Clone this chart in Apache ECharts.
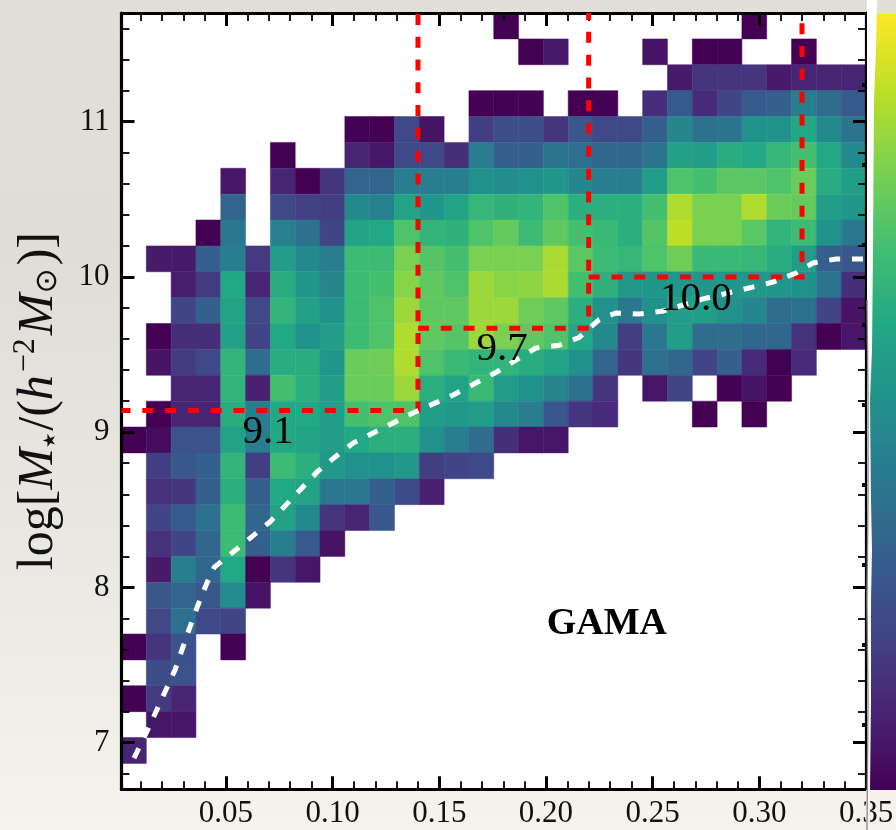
<!DOCTYPE html>
<html>
<head>
<meta charset="utf-8">
<style>html,body{margin:0;padding:0;background:#eae7e1}#chart{width:896px;height:830px}</style>
<script src="https://cdn.jsdelivr.net/npm/echarts@6/dist/echarts.min.js"></script>
</head>
<body>
<div id="chart"></div>
<script>
const _ = null;
// colour position (0..1) of each 2D-histogram cell, top row first, 30 x 30
const cellRows = [
[_,_,_,_,_,_,_,_,_,_,_,_,_,_,_,0,_,_,_,_,_,_,_,_,_,0,_,_,_,_],
[_,_,_,_,_,_,_,_,_,_,_,_,_,_,_,_,0,.07,_,_,_,.05,_,0,0,_,_,0,_,_],
[_,_,_,_,_,_,_,_,_,_,_,_,_,_,_,_,_,_,_,_,_,_,.07,.15,.15,.15,.07,.1,.1,.1],
[_,_,_,_,_,_,_,_,_,_,_,_,_,_,0,0,0,_,0,0,_,.13,.28,.12,.2,.28,.3,.42,.35,.28],
[_,_,_,_,_,_,_,_,_,0,0,.22,.05,_,.18,.24,.24,.15,.27,.22,.22,.3,.45,.37,.38,.5,.5,.6,.47,.38],
[_,_,_,_,_,_,0,_,_,.1,.06,.22,.22,.13,.42,.3,.3,.38,.36,.33,.33,.38,.57,.55,.62,.6,.66,.7,.6,.47],
[_,_,_,_,.06,_,.1,0,.15,.32,.32,.42,.42,.42,.5,.48,.5,.52,.46,.42,.42,.55,.72,.7,.74,.74,.72,.77,.62,.55],
[_,_,_,_,.32,_,.22,.19,.18,.47,.43,.58,.52,.58,.66,.64,.65,.72,.63,.63,.63,.7,.88,.8,.8,.88,.77,.76,.55,.52],
[_,_,_,0,.4,_,.43,.37,.2,.58,.6,.72,.65,.64,.72,.76,.68,.75,.7,.67,.63,.73,.9,.8,.8,.74,.65,.68,.5,.4],
[_,.07,.07,.3,.42,.17,.55,.47,.42,.68,.68,.8,.73,.7,.8,.8,.8,.87,.74,.68,.66,.72,.78,.67,.67,.66,.62,.55,.3,.27],
[_,_,.08,.17,.6,.1,.62,.52,.45,.68,.7,.82,.75,.72,.85,.82,.83,.87,.7,.64,.53,.52,.52,.52,.52,.52,.52,.5,.38,.13],
[_,_,.2,.3,.58,.22,.65,.57,.5,.68,.72,.85,.75,.75,.85,.85,.78,.75,.63,.5,.4,.5,.55,.55,.5,.45,.35,.37,.2,.05],
[_,0,.13,.13,.57,.2,.6,.5,.55,.68,.72,.88,.75,.73,.85,.8,.75,.72,.6,.47,.18,.4,.55,.35,.35,.33,.33,.14,0,.06],
[_,.05,.17,.22,.65,.35,.62,.62,.52,.77,.78,.88,.72,.67,.65,.65,.62,.58,.5,.32,.16,.37,.33,.2,.3,.12,0,.12,_,_],
[_,_,.1,.1,.65,.09,.7,.63,.55,.77,.77,.85,.63,.58,.67,.55,.5,.45,.37,.15,_,.06,.2,_,0,.05,0,_,_,_],
[_,0,.1,.1,.62,.42,.6,.6,.55,.7,.72,.72,.55,.53,.55,.47,.42,.27,.15,.12,_,_,_,0,_,0,_,_,_,_],
[0,.03,.25,.25,.58,.42,.6,.58,.55,.6,.63,.63,.5,.42,.35,.13,.06,.06,_,_,_,_,_,_,_,_,_,_,_,_],
[_,.18,.27,.3,.65,.18,.68,.63,.53,.5,.5,.53,.18,.2,.22,_,_,_,_,_,_,_,_,_,_,_,_,_,_,_],
[_,.14,.16,.3,.63,.3,.6,.58,.4,.4,.3,.23,.09,_,_,_,_,_,_,_,_,_,_,_,_,_,_,_,_,_],
[_,.2,.28,.37,.68,.33,.57,.47,.15,.1,.27,_,_,_,_,_,_,_,_,_,_,_,_,_,_,_,_,_,_,_],
[_,.14,.2,.33,.68,.3,.42,.28,.05,_,_,_,_,_,_,_,_,_,_,_,_,_,_,_,_,_,_,_,_,_],
[_,.07,.42,.33,.6,0,.15,.06,_,_,_,_,_,_,_,_,_,_,_,_,_,_,_,_,_,_,_,_,_,_],
[_,.27,.32,.27,.48,.05,_,_,_,_,_,_,_,_,_,_,_,_,_,_,_,_,_,_,_,_,_,_,_,_],
[_,.22,.37,.22,.2,_,_,_,_,_,_,_,_,_,_,_,_,_,_,_,_,_,_,_,_,_,_,_,_,_],
[0,.15,.25,_,0,_,_,_,_,_,_,_,_,_,_,_,_,_,_,_,_,_,_,_,_,_,_,_,_,_],
[_,.23,.25,_,_,_,_,_,_,_,_,_,_,_,_,_,_,_,_,_,_,_,_,_,_,_,_,_,_,_],
[0,.17,.1,_,_,_,_,_,_,_,_,_,_,_,_,_,_,_,_,_,_,_,_,_,_,_,_,_,_,_],
[_,.06,.06,_,_,_,_,_,_,_,_,_,_,_,_,_,_,_,_,_,_,_,_,_,_,_,_,_,_,_],
[.1,_,_,_,_,_,_,_,_,_,_,_,_,_,_,_,_,_,_,_,_,_,_,_,_,_,_,_,_,_],
[_,_,_,_,_,_,_,_,_,_,_,_,_,_,_,_,_,_,_,_,_,_,_,_,_,_,_,_,_,_]
];
const xRange = [0.00103, 0.35];
const yRange = [6.7, 11.7];
const viridis = ['#440154','#482475','#414487','#355f8d','#2a788e','#21918c','#22a884','#44bf70','#7ad151','#bddf26','#fde725'];

const xMajorTicks = [0.05,0.10,0.15,0.20,0.25,0.30,0.35];
const xMinorTicks = [0.01,0.02,0.03,0.04,0.06,0.07,0.08,0.09,0.11,0.12,0.13,0.14,0.16,0.17,0.18,0.19,0.21,0.22,0.23,0.24,0.26,0.27,0.28,0.29,0.31,0.32,0.33,0.34];
const yMajorTicks = [7,8,9,10,11];
const yMinorTicks = [6.8,7.2,7.4,7.6,7.8,8.2,8.4,8.6,8.8,9.2,9.4,9.6,9.8,10.2,10.4,10.6,10.8,11.2,11.4,11.6];
const colorbarTicks = [0.084,0.187,0.290,0.393,0.496,0.600,0.703,0.806,0.909];

// white dashed curve
const curve = [[0.0069,6.90],[0.0144,7.114],[0.0214,7.327],[0.0261,7.468],[0.0331,7.745],[0.0369,7.887],[0.0411,8.03],[0.0445,8.13],[0.0557,8.254],[0.0706,8.422],[0.0927,8.744],[0.1011,8.84],[0.1096,8.93],[0.1386,9.13],[0.1565,9.24],[0.177,9.388],[0.186,9.465],[0.1953,9.542],[0.2061,9.56],[0.2155,9.61],[0.2249,9.725],[0.2328,9.768],[0.2436,9.761],[0.2549,9.78],[0.2736,9.858],[0.2952,9.929],[0.3064,9.967],[0.3172,10.025],[0.3252,10.09],[0.336,10.116],[0.35,10.116]];
// red dashed thresholds
const cutLow = [[0.00103,9.14],[0.14,9.14],[0.14,11.7]];
const cutMid = [[0.14,9.67],[0.22,9.67],[0.22,11.7]];
const cutHigh = [[0.22,10.0],[0.32,10.0],[0.32,11.7]];

const cutLabels = [['9.1',0.0697,9.0],['9.7',0.1794,9.536],['10.0',0.2703,9.858]];
const sampleLabel = [['GAMA',0.2285,7.765]];

const FONT = '"Liberation Serif","Times New Roman",serif';
const nx = 30, ny = 30;
const dx = (xRange[1]-xRange[0])/nx, dy = (yRange[1]-yRange[0])/ny;
const cells = [];
cellRows.forEach((row, i) => row.forEach((v, j) => {
  if (v === null) return;
  const r = ny-1-i;
  cells.push([xRange[0]+j*dx, xRange[0]+(j+1)*dx, yRange[0]+r*dy, yRange[0]+(r+1)*dy, v]);
}));

const blackLine = {show:true,onZero:false,lineStyle:{color:'#000',width:3.2}};
function xAxisOf(pos, major, labels){
  return {type:'value',gridIndex:0,position:pos,min:xRange[0],max:xRange[1],z:5,
    axisLine:major?blackLine:{show:false},
    splitLine:{show:false},
    axisTick:{show:true,inside:true,length:major?13:8,lineStyle:{color:'#000',width:major?3:1.8},customValues:major?xMajorTicks:xMinorTicks},
    axisLabel:labels?{show:true,margin:9,color:'#111',fontFamily:FONT,fontSize:31,customValues:xMajorTicks,formatter:v=>v.toFixed(2),showMinLabel:true,showMaxLabel:true,hideOverlap:false}:{show:false}};
}
function yAxisOf(pos, major, labels, name){
  const a = {type:'value',gridIndex:0,position:pos,min:yRange[0],max:yRange[1],z:5,
    axisLine:major?blackLine:{show:false},
    splitLine:{show:false},
    axisTick:{show:true,inside:true,length:major?13:8,lineStyle:{color:'#000',width:major?3:1.8},customValues:major?yMajorTicks:yMinorTicks},
    axisLabel:labels?{show:true,margin:12,color:'#111',fontFamily:FONT,fontSize:31,customValues:yMajorTicks,formatter:v=>String(v)}:{show:false}};
  if(name){
    a.name = '{t|log[}{i|M}{s|\u2605}{t|/(}{i|h}{p|\u22122}{i|M}{o|\u2299}{t|)]}';
    a.nameLocation='middle'; a.nameRotate=90; a.nameGap=46;
    a.nameTextStyle={color:'#111',rich:{
      t:{fontFamily:FONT,fontSize:50,lineHeight:70,color:'#111'},
      i:{fontFamily:FONT,fontStyle:'italic',fontSize:50,lineHeight:70,color:'#111'},
      s:{fontFamily:'"DejaVu Sans"',fontSize:17,lineHeight:70,padding:[24,2,0,0],color:'#111'},
      p:{fontFamily:FONT,fontSize:32,lineHeight:70,padding:[0,3,26,3],color:'#111'},
      o:{fontFamily:'"DejaVu Sans"',fontSize:30,lineHeight:70,padding:[20,3,0,0],color:'#111'}
    }};
  }
  return a;
}
const dashed = (data, color, z, offset) => ({type:'line',data,showSymbol:false,symbol:'none',z,silent:true,clip:true,
  lineStyle:{color,width:5,type:[11,11.8],dashOffset:offset,cap:'butt',join:'miter'},animation:false});
const labelled = (data, font) => ({type:'scatter',data:data.map(d=>({name:d[0],value:[d[1],d[2]]})),symbolSize:1,z:12,silent:true,
  itemStyle:{color:'transparent',opacity:1},
  label:{show:true,position:'inside',formatter:'{b}',color:'#000',fontFamily:FONT,...font}});

const chart = echarts.init(document.getElementById('chart'),null,{renderer:'canvas',width:896,height:830});
chart.setOption({
  animation:false,
  backgroundColor:new echarts.graphic.LinearGradient(0,0,0,1,[
    {offset:0,color:'#e2dfd9'},{offset:.3,color:'#e0ddd7'},{offset:.7,color:'#ebe9e3'},{offset:1,color:'#f5f3ec'}]),
  grid:[
    {left:121.5,top:13,width:744.5,height:776.25,show:true,backgroundColor:'#fff',borderWidth:0,containLabel:false,outerBoundsMode:'none'},
    {left:866,top:14,width:30,height:776,show:false,containLabel:false,outerBoundsMode:'none'}
  ],
  xAxis:[
    xAxisOf('bottom',true,true), xAxisOf('bottom',false,false),
    xAxisOf('top',true,false), xAxisOf('top',false,false),
    {type:'value',gridIndex:1,show:false,min:0,max:1}
  ],
  yAxis:[
    yAxisOf('left',true,true,true), yAxisOf('left',false,false),
    yAxisOf('right',true,false), yAxisOf('right',false,false),
    {type:'value',gridIndex:1,position:'right',min:0,max:1,z:40,
     axisLine:{show:false},splitLine:{show:false},axisLabel:{show:false},
     axisTick:{show:true,inside:true,length:4,lineStyle:{color:'#000',width:4},customValues:colorbarTicks}}
  ],
  visualMap:{
    type:'continuous',min:0,max:1,seriesIndex:0,dimension:4,calculable:false,show:true,
    left:866,top:14,itemWidth:40,itemHeight:776,text:['',''],showLabel:false,padding:0,orient:'vertical',realtime:false,
    inRange:{color:viridis},z:3,textStyle:{color:'transparent',fontSize:1}
  },
  graphic:[
    {type:'polygon',z:30,silent:true,shape:{points:[[867,0],[877,0],[876,50],[874,100],[873,250],[872,350],[870,400],[871,500],[872,550],[871,600],[871,700],[870,790],[867,790]]},style:{fill:'#fff'}},
    {type:'polygon',z:30,silent:true,shape:{points:[[866,790],[870,790],[870,830],[866,830]]},style:{fill:'#f7f6f2'}},
    {type:'polyline',z:31,silent:true,shape:{points:[[867,300],[868,400],[868,500],[867,600],[868,700],[867,830]]},style:{stroke:'#8d8d8d',lineWidth:1.4,fill:null}}
  ],
  series:[
    {type:'custom',coordinateSystem:'cartesian2d',xAxisIndex:0,yAxisIndex:0,data:cells,z:2,silent:true,clip:true,
     encode:{x:[0,1],y:[2,3]},
     renderItem:(params,api)=>{
       const a = api.coord([api.value(0),api.value(3)]);
       const b = api.coord([api.value(1),api.value(2)]);
       const c = api.visual('color');
       return {type:'rect',shape:{x:a[0],y:a[1],width:b[0]-a[0],height:b[1]-a[1]},style:{fill:c,stroke:c,lineWidth:.5}};
     }},
    dashed(cutLow,'#ff0000',7,2),
    dashed(cutMid,'#ff0000',7,0),
    dashed(cutHigh,'#ff0000',7,0),
    dashed(curve,'#ffffff',8,0),
    labelled(cutLabels,{fontSize:41}),
    labelled(sampleLabel,{fontSize:38,fontWeight:'bold'})
  ]
});
</script>
</body>
</html>
